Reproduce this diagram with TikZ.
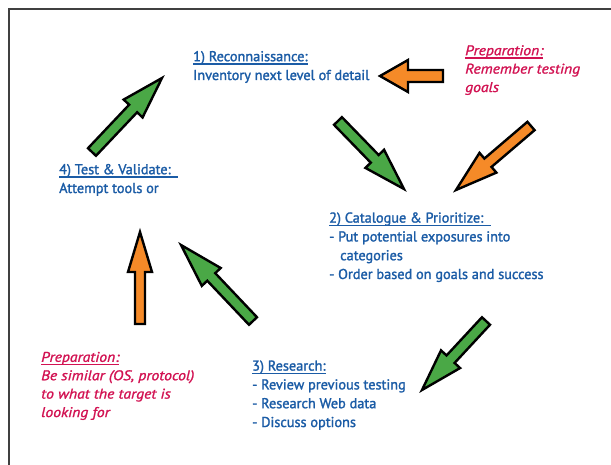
\documentclass[tikz,border=0pt]{standalone}
\usepackage{fontspec}
\setmainfont{PT Sans}[FakeBold=1.6]
\newfontfamily\prepfont{PT Sans}[FakeStretch=1.12, FakeBold=1.3]
\usetikzlibrary{calc}

\definecolor{stepblue}{RGB}{27,92,166}
\definecolor{prepred}{RGB}{210,18,82}
\definecolor{arrowgreen}{RGB}{74,168,70}
\definecolor{arroworange}{RGB}{245,138,40}
\definecolor{framegray}{RGB}{64,64,64}

% underline that sits just under the baseline and crosses descenders
\newcommand\ulined[1]{\leavevmode\setbox0\hbox{#1}\rlap{\vrule height -2.2pt depth 3.4pt width \wd0}\box0}

% block arrow: #1 name, #2 style, #3 tail, #4 tip,
% #5 half shaft width, #6 half head width, #7 head length
\newcommand\blockarrow[7]{%
  \coordinate (#1-base) at ($(#4)!#7!(#3)$);
  \draw[#2] ($(#3)!#5!90:(#4)$) -- ($(#1-base)!#5!90:(#4)$)
    -- ($(#1-base)!#6!90:(#4)$) -- (#4) -- ($(#1-base)!#6!-90:(#4)$)
    -- ($(#1-base)!#5!-90:(#4)$) -- ($(#3)!#5!-90:(#4)$) -- cycle;}

\tikzset{
  blockarrow/.style={draw=black, line width=2.4pt, line join=miter},
  greenarrow/.style={blockarrow, fill=arrowgreen},
  orangearrow/.style={blockarrow, fill=arroworange},
  steptext/.style={anchor=base west, inner sep=0pt, align=left, text=stepblue,
    font=\fontsize{14.3}{18.8}\selectfont},
  preptext/.style={anchor=base west, inner sep=0pt, align=left, text=prepred,
    font=\fontsize{14}{18.4}\selectfont\prepfont\itshape},
}

\begin{document}
\begin{tikzpicture}[x=1pt, y=-1pt]
  \useasboundingbox (0,0) rectangle (611,465);
  \fill[white] (0,0) rectangle (611,465);

  % page frame, open to the right and bottom
  \draw[framegray, line width=1.8pt] (9,465) -- (9,9) -- (611,9);

  % texts (placed at the baseline of their last line)
  \node[steptext] (recon) at (193,80)
    {\ulined{1) Reconnaissance:}\\Inventory next level of detail};
  \node[preptext] (prepA) at (465,92)
    {\ulined{Preparation:}\\Remember testing\\goals};
  \node[steptext] (catalogue) at (329,279)
    {\ulined{2) Catalogue \& Prioritize:\ \ }\\- Put potential exposures into\\\hspace*{11pt}categories\\- Order based on goals and success};
  \node[steptext] (research) at (252,427)
    {\ulined{3) Research:}\\- Review previous testing\\- Research Web data\\- Discuss options};
  \node[steptext] (validate) at (59,193)
    {\ulined{4) Test \& Validate:\ \ }\\Attempt tools or};
  \node[preptext] (prepB) at (41,417)
    {\ulined{Preparation:}\\Be similar (OS, protocol)\\to what the target is\\looking for};

  % arrow end points
  \coordinate (g1tail) at (92,152);   \coordinate (g1tip) at (162,78);
  \coordinate (o1tail) at (443,76);   \coordinate (o1tip) at (380,76);
  \coordinate (g2tail) at (338,121);  \coordinate (g2tip) at (404,189);
  \coordinate (o2tail) at (531,126);  \coordinate (o2tip) at (456,190);
  \coordinate (g3tail) at (486,321);  \coordinate (g3tip) at (422,390);
  \coordinate (g4tail) at (253,321);  \coordinate (g4tip) at (181,245);
  \coordinate (o4tail) at (140,324);  \coordinate (o4tip) at (140,232);

  % arrows
  \blockarrow{g1}{greenarrow}{g1tail}{g1tip}{5.5pt}{13pt}{42pt}
  \blockarrow{o1}{orangearrow}{o1tail}{o1tip}{6pt}{16pt}{28pt}
  \blockarrow{g2}{greenarrow}{g2tail}{g2tip}{5.5pt}{13pt}{42pt}
  \blockarrow{o2}{orangearrow}{o2tail}{o2tip}{5.5pt}{13pt}{42pt}
  \blockarrow{g3}{greenarrow}{g3tail}{g3tip}{5.5pt}{13pt}{42pt}
  \blockarrow{g4}{greenarrow}{g4tail}{g4tip}{5.5pt}{13pt}{44pt}
  \blockarrow{o4}{orangearrow}{o4tail}{o4tip}{5pt}{12pt}{40pt}
\end{tikzpicture}
\end{document}
